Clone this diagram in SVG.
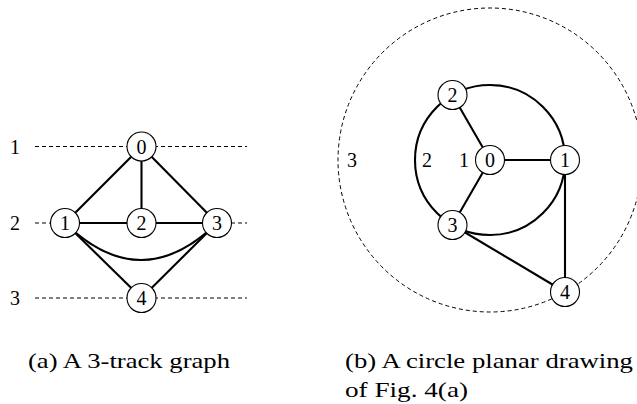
<svg xmlns="http://www.w3.org/2000/svg" width="637" height="404" viewBox="0 0 637 404">
<style>
.edge{stroke:#000;stroke-width:2.1;fill:none}
.dash{stroke:#000;stroke-width:1;fill:none;stroke-dasharray:4 3}
.node circle{fill:#fff;stroke:#000;stroke-width:1.1}
.lbl{font-family:"Liberation Serif","DejaVu Serif",serif;font-size:20px;text-anchor:middle;dominant-baseline:central;fill:#000}
.cap{font-family:"Liberation Serif","DejaVu Serif",serif;font-size:21px;fill:#000}
</style>
<rect width="637" height="404" fill="#fff"/>
<g id="tracks">
<line class="dash" x1="35" y1="146.5" x2="247" y2="146.5"/>
<line class="dash" x1="35" y1="223" x2="247" y2="223"/>
<line class="dash" x1="35" y1="298" x2="247" y2="298"/>
<text class="lbl" x="15" y="146.5">1</text>
<text class="lbl" x="15" y="223">2</text>
<text class="lbl" x="15" y="298">3</text>
</g>
<g id="outer-circle">
<circle class="dash" cx="490" cy="160" r="152"/>
</g>
<g id="connectors">
<line class="edge" x1="141.5" y1="146.5" x2="65" y2="223"/>
<line class="edge" x1="141.5" y1="146.5" x2="141.5" y2="223"/>
<line class="edge" x1="141.5" y1="146.5" x2="217" y2="223"/>
<line class="edge" x1="65" y1="223" x2="217" y2="223"/>
<line class="edge" x1="65" y1="223" x2="141.5" y2="298"/>
<line class="edge" x1="217" y1="223" x2="141.5" y2="298"/>
<path class="edge" d="M65,223 Q141,297 217,223"/>
<circle class="edge" cx="490" cy="160" r="75"/>
<line class="edge" x1="490" y1="160" x2="452.5" y2="95"/>
<line class="edge" x1="490" y1="160" x2="452.5" y2="225"/>
<line class="edge" x1="490" y1="160" x2="565" y2="160"/>
<line class="edge" x1="565" y1="160" x2="565" y2="292"/>
<line class="edge" x1="452.5" y1="225" x2="565" y2="292"/>
</g>
<g id="a0" class="node"><circle cx="141.5" cy="146.5" r="14.5"/><text class="lbl" x="141.5" y="146.5">0</text></g>
<g id="a1" class="node"><circle cx="65" cy="223" r="14.5"/><text class="lbl" x="65" y="223">1</text></g>
<g id="a2" class="node"><circle cx="141.5" cy="223" r="14.5"/><text class="lbl" x="141.5" y="223">2</text></g>
<g id="a3" class="node"><circle cx="217" cy="223" r="14.5"/><text class="lbl" x="217" y="223">3</text></g>
<g id="a4" class="node"><circle cx="141.5" cy="298" r="14.5"/><text class="lbl" x="141.5" y="298">4</text></g>
<g id="b0" class="node"><circle cx="490" cy="160" r="14.5"/><text class="lbl" x="490" y="160">0</text></g>
<g id="b1" class="node"><circle cx="565" cy="160" r="14.5"/><text class="lbl" x="565" y="160">1</text></g>
<g id="b2" class="node"><circle cx="452.5" cy="95" r="14.5"/><text class="lbl" x="452.5" y="95">2</text></g>
<g id="b3" class="node"><circle cx="452.5" cy="225" r="14.5"/><text class="lbl" x="452.5" y="225">3</text></g>
<g id="b4" class="node"><circle cx="565" cy="292" r="14.5"/><text class="lbl" x="565" y="292">4</text></g>
<g id="face-labels">
<text class="lbl" x="352" y="160">3</text>
<text class="lbl" x="427" y="160">2</text>
<text class="lbl" x="464" y="160">1</text>
</g>
<g id="captions">
<text class="cap" x="28" y="368" textLength="202" lengthAdjust="spacingAndGlyphs">(a) A 3-track graph</text>
<text class="cap" x="345" y="368" textLength="288" lengthAdjust="spacingAndGlyphs">(b) A circle planar drawing</text>
<text class="cap" x="345" y="397" textLength="123" lengthAdjust="spacingAndGlyphs">of Fig. 4(a)</text>
</g>
</svg>
